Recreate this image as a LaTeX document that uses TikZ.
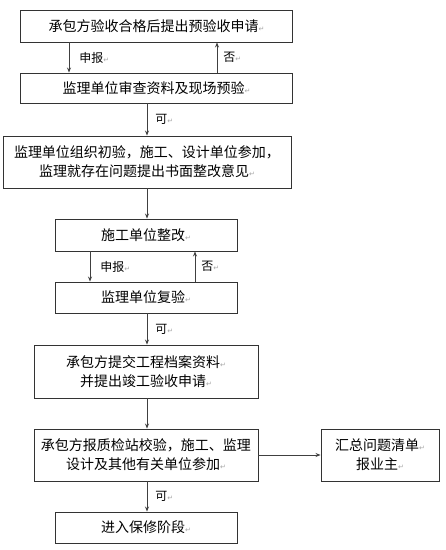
\documentclass[tikz,border=0pt]{standalone}
\usepackage{fontspec}
\setmainfont{Noto Sans CJK SC}
\newfontfamily\symfont{DejaVu Sans}
\usetikzlibrary{arrows.meta}
\newcommand{\parmk}{{\symfont\fontsize{7pt}{7pt}\selectfont\color{gray!70}↵}}
\begin{document}
\begin{tikzpicture}[x=1pt,y=-1pt,
  box/.style={draw=black!80,line width=0.9pt,fill=white,inner sep=0pt,
    font=\fontsize{14pt}{19pt}\selectfont,align=center},
  lab/.style={font=\fontsize{12pt}{12pt}\selectfont,inner sep=1pt},
  arr/.style={draw=black!75,line width=0.8pt,-{Stealth[length=5pt,width=4pt]}}]
\useasboundingbox (0,0) rectangle (446,550);
\fill[white] (0,0) rectangle (446,550);
% boxes
\node[box,minimum width=272pt,minimum height=32pt] (b1) at (156.5,26) {承包方验收合格后提出预验收申请\parmk};
\node[box,minimum width=272pt,minimum height=30pt] (b2) at (156.5,88) {监理单位审查资料及现场预验\parmk};
\node[box,minimum width=288pt,minimum height=52pt] (b3) at (147,162) {监理单位组织初验，施工、设计单位参加，\\监理就存在问题提出书面整改意见\parmk};
\node[box,minimum width=182pt,minimum height=32pt] (b4) at (146,235) {施工单位整改\parmk};
\node[box,minimum width=182pt,minimum height=31pt] (b5) at (146,297.5) {监理单位复验\parmk};
\node[box,minimum width=224pt,minimum height=53pt] (b6) at (146,371.5) {承包方提交工程档案资料\parmk\\并提出竣工验收申请\parmk};
\node[box,minimum width=224pt,minimum height=52pt] (b7) at (146,455) {承包方报质检站校验，施工、监理\\设计及其他有关单位参加\parmk};
\node[box,minimum width=118pt,minimum height=52pt] (b8) at (380,455) {汇总问题清单\parmk\\报业主\parmk};
\node[box,minimum width=182pt,minimum height=31pt] (b9) at (146,527.5) {进入保修阶段\parmk};
% connectors
\coordinate (s1) at (69,0);
\draw[arr] (b1.south -| s1) -- (b2.north -| s1) node[midway,right=9pt,lab] {申报\parmk};
\coordinate (n1) at (217,0);
\draw[arr] (b2.north -| n1) -- (b1.south -| n1) node[midway,right=5pt,lab] {否\parmk};
\coordinate (c) at (147,0);
\draw[arr] (b2.south -| c) -- (b3.north -| c) node[midway,right=7pt,lab] {可\parmk};
\draw[arr] (b3.south -| c) -- (b4.north -| c);
\coordinate (s2) at (90,0);
\draw[arr] (b4.south -| s2) -- (b5.north -| s2) node[midway,right=9pt,lab] {申报\parmk};
\coordinate (n2) at (195,0);
\draw[arr] (b5.north -| n2) -- (b4.south -| n2) node[midway,right=5pt,lab] {否\parmk};
\draw[arr] (b5.south -| c) -- (b6.north -| c) node[midway,right=7pt,lab] {可\parmk};
\draw[arr] (b6.south -| c) -- (b7.north -| c);
\draw[arr] (b7.east) -- (b8.west);
\draw[arr] (b7.south -| c) -- (b9.north -| c) node[midway,right=7pt,lab] {可\parmk};
\end{tikzpicture}
\end{document}
